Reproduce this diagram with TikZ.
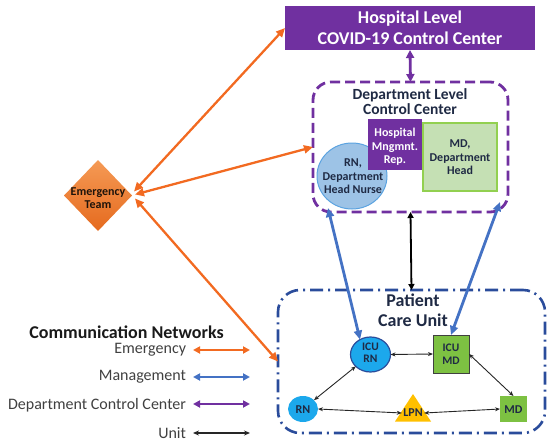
\documentclass[tikz,border=0pt]{standalone}
\usepackage{fontspec}
\setmainfont{Carlito}
\usetikzlibrary{shapes.geometric,arrows.meta,calc}
\definecolor{hpurple}{HTML}{7030A0}
\definecolor{navy}{HTML}{1F2A44}
\definecolor{eorange}{HTML}{F26A21}
\definecolor{mblue}{HTML}{4472C4}
\definecolor{pcublue}{HTML}{2A4C9B}
\definecolor{rnfill}{HTML}{9DC3E6}
\definecolor{rnline}{HTML}{5BA3E0}
\definecolor{mdfill}{HTML}{C5E0B4}
\definecolor{mdline}{HTML}{92D050}
\definecolor{icublue}{HTML}{1CA8EC}
\definecolor{icugreen}{HTML}{7DC142}
\definecolor{lpnyel}{HTML}{FFC000}
\definecolor{legtext}{HTML}{404040}
\definecolor{emtop}{HTML}{F59A55}
\definecolor{embot}{HTML}{E56A1E}
\newcommand{\myfs}[2]{\fontsize{#1}{#2}\selectfont}
\begin{document}
\begin{tikzpicture}[x=1pt,y=-1pt,
  every node/.style={inner sep=0pt, outer sep=0pt},
  hospbox/.style={rectangle, fill=hpurple, text=white, font=\bfseries\myfs{18}{21}, align=center, minimum width=250pt, minimum height=44pt},
  deptbox/.style={rectangle, draw=hpurple, line width=2.8pt, dash pattern=on 10pt off 5pt, rounded corners=18pt, minimum width=195pt, minimum height=130pt},
  pcubox/.style={rectangle, draw=pcublue, line width=2.6pt, dash pattern=on 13pt off 5pt on 2pt off 5pt, rounded corners=22pt, minimum width=267pt, minimum height=143pt},
  title/.style={font=\bfseries\myfs{15.5}{15}, text=navy, align=center},
  small/.style={font=\bfseries\myfs{12}{13.5}, text=navy, align=center},
  orgarr/.style={draw=eorange, line width=2.3pt, <->, >={Triangle[length=9pt,width=8pt]}},
  bluarr/.style={draw=mblue, line width=2.8pt, <->, >={Triangle[length=9pt,width=8pt]}},
  purarr/.style={draw=hpurple, line width=2.8pt, <->, >={Triangle[length=8pt,width=8pt]}},
  blkarr/.style={draw=black, line width=1.8pt, <->, >={Triangle[length=6pt,width=6pt]}},
  thinarr/.style={draw=black!85, line width=0.9pt, <->, >={Stealth[length=5pt,width=4pt]}},
  legtxt/.style={anchor=east, font=\myfs{16}{18}, text=legtext}
]
\useasboundingbox (0,0) rectangle (550,447);

% Hospital level
\node[hospbox] (hosp) at (410,28) {Hospital Level\\COVID-19 Control Center};

% Department level
\node[deptbox] (dept) at (410.5,147) {};
\node[title] (deptT) at (410,102) {Department Level\\Control Center};
\node[ellipse, fill=rnfill, draw=rnline, line width=1pt, minimum width=70pt, minimum height=66pt] (rnh) at (352,176) {};
\node[small] (rnhT) at (353,176.5) {RN,\\Department\\Head Nurse};
\node[rectangle, fill=hpurple, minimum width=54pt, minimum height=51pt] (hmr) at (395,144.5) {};
\node[small, text=white] (hmrT) at (395,147) {Hospital\\Mngmnt.\\Rep.};
\node[rectangle, fill=mdfill, draw=mdline, line width=1.6pt, minimum width=74pt, minimum height=68pt] (mdh) at (460,157) {};
\node[small] (mdhT) at (460,157.5) {MD,\\Department\\Head};

% Patient care unit
\node[pcubox] (pcu) at (411.5,361.5) {};
\node[font=\bfseries\myfs{18}{20}, text=navy, align=center] (pcuT) at (413,310) {Patient\\Care Unit};
\node[ellipse, fill=icublue, draw=pcublue, line width=1.2pt, minimum width=40pt, minimum height=35pt] (icurn) at (370.5,354.5) {};
\node[small, font=\bfseries\myfs{11.5}{12.5}] (icurnT) at (370.5,352.5) {ICU\\RN};
\node[rectangle, fill=icugreen, draw=black!75, line width=1pt, minimum width=36pt, minimum height=38pt] (icumd) at (451,354) {};
\node[small, font=\bfseries\myfs{11.5}{12.5}] (icumdT) at (451,354) {ICU\\MD};
\node[ellipse, fill=icublue, minimum width=30pt, minimum height=26pt] (rn) at (303,409) {};
\node[small] (rnT) at (303,409.5) {RN};
\fill[lpnyel] (413,394) -- (431,421.5) -- (395,421.5) -- cycle;
\node[small, inner sep=1.5pt] (lpn) at (413,413) {LPN};
\node[rectangle, fill=icugreen, minimum width=27pt, minimum height=26pt] (md) at (513.5,409) {};
\node[small] (mdT) at (513.5,409.5) {MD};

% Emergency team
\node[diamond, top color=emtop, bottom color=embot, minimum width=68pt, minimum height=71pt] (emt) at (98,195.5) {};
\node[small, text=black!85!brown] (emtT) at (98,198) {Emergency\\Team};

% Connectors
\draw[purarr] (hosp.south) -- (dept.north);
\draw[blkarr] (dept.south) -- (pcu.north);
\coordinate (dbl) at ($(dept.south west)+(15,-4)$);
\coordinate (dbr) at ($(dept.south east)+(-8,-10)$);
\draw[bluarr] (dbl) -- (icurn.125);
\draw[bluarr] (dbr) -- (icumd.north);
\draw[orgarr] ([shift={(2,-4)}]emt.east) -- (hosp.west);
\draw[orgarr] ([shift={(3,-1)}]emt.east) -- (dept.west);
\draw[orgarr] ([shift={(3,3)}]emt.east) -- (pcu.west);
\draw[thinarr] (icurn.east) -- (icumd.west);
\draw[thinarr] (icurn) -- (rn);
\draw[thinarr] (icumd.east) -- (md.north);
\draw[thinarr] (rn.east) -- (lpn.west);
\draw[thinarr] (lpn.east) -- (md.west);

% Legend
\node[font=\bfseries\myfs{18}{20}, text=black!90] (legT) at (126.5,332) {Communication Networks};
\node[legtxt] (leg1) at (186,350) {Emergency};
\node[legtxt] (leg2) at (186,377) {Management};
\node[legtxt] (leg3) at (186,405) {Department Control Center};
\node[legtxt] (leg4) at (186,433) {Unit};
\coordinate (l1a) at (193,350); \coordinate (l1b) at (250,350);
\coordinate (l2a) at (193,377); \coordinate (l2b) at (250,377);
\coordinate (l3a) at (193,404); \coordinate (l3b) at (250,404);
\coordinate (l4a) at (193,433); \coordinate (l4b) at (250,433);
\draw[orgarr, line width=2pt, >={Triangle[length=7pt,width=7pt]}] (l1a) -- (l1b);
\draw[bluarr, line width=2pt, >={Triangle[length=7pt,width=7pt]}] (l2a) -- (l2b);
\draw[purarr, line width=2.4pt, >={Triangle[length=7pt,width=7pt]}] (l3a) -- (l3b);
\draw[thinarr, line width=1.2pt, >={Stealth[length=6pt,width=5pt]}] (l4a) -- (l4b);
\end{tikzpicture}
\end{document}
